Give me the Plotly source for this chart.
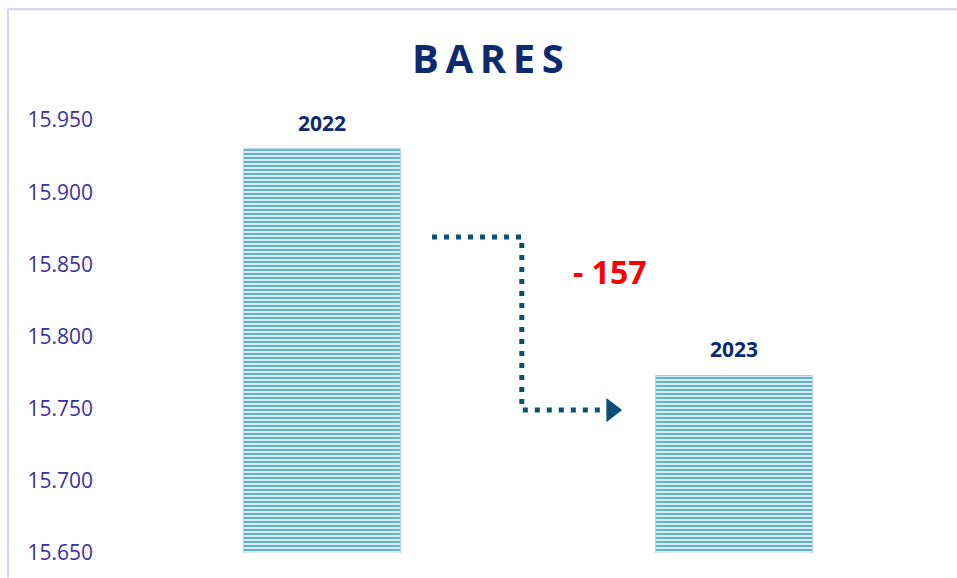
import plotly.graph_objects as go

years = ["2022", "2023"]
values = [15930, 15773]
y_ticks = [15650, 15700, 15750, 15800, 15850, 15900, 15950]
y_tick_text = ["15.650", "15.700", "15.750", "15.800", "15.850", "15.900", "15.950"]
title_text = "BARES"

diff = values[1] - values[0]
diff_text = f"- {abs(diff)}" if diff < 0 else f"+ {diff}"

W, H = 957, 578
L, R, T, B = 116, 17, 120, 20
PW, PH = W - L - R, H - T - B


def px(fx):
    return (fx - L) / PW


def py(fy):
    return (H - B - fy) / PH


fig = go.Figure()
fig.add_trace(go.Bar(
    x=years, y=values, width=0.38,
    marker=dict(
        color="#CFE8F1",
        line=dict(color="#9ED0E2", width=1),
        pattern=dict(shape="-", fgcolor="#62B0CC", bgcolor="#D8EDF5",
                     size=4, solidity=0.5, fillmode="replace"),
    ),
    hoverinfo="skip",
))

# dotted connector (decoration)
conn_x = [0.267, 0.485, 0.485, 0.69]
conn_y = [15869, 15869, 15749, 15749]
fig.add_trace(go.Scatter(
    x=conn_x, y=conn_y, xaxis="x2", yaxis="y",
    mode="lines", line=dict(color="#0B5177", width=5, dash="5px,7px"),
    hoverinfo="skip",
))
fig.add_trace(go.Scatter(
    x=[0.703], y=[15749], xaxis="x2", yaxis="y",
    mode="markers", marker=dict(symbol="triangle-right", size=21, color="#0B5177"),
    hoverinfo="skip",
))

annotations = []
for i, (yr, v) in enumerate(zip(years, values)):
    annotations.append(dict(x=i, y=v, xref="x2", yref="y", text=f"<b>{yr}</b>",
                            showarrow=False, yshift=26,
                            font=dict(family="Open Sans", size=21, color="#0E2A6E")))
annotations.append(dict(x=px(610), y=py(273), xref="paper", yref="paper",
                        text=f"<b>{diff_text}</b>", showarrow=False,
                        xanchor="center", yanchor="middle",
                        font=dict(family="Open Sans", size=32, color="#FF0000")))
annotations.append(dict(x=px(488), y=py(57), xref="paper", yref="paper",
                        text="<b>" + "\u2009".join(title_text) + "</b>", showarrow=False,
                        xanchor="center", yanchor="middle",
                        font=dict(family="Open Sans", size=40, color="#0E2A6E")))

fig.update_layout(
    width=W, height=H,
    margin=dict(l=L, r=R, t=T, b=B),
    paper_bgcolor="white", plot_bgcolor="white",
    showlegend=False,
    bargap=0.62,
    xaxis=dict(type="category", range=[-0.5, 1.5], showticklabels=False,
               showgrid=False, zeroline=False, showline=False, ticks=""),
    xaxis2=dict(range=[-0.5, 1.5], overlaying="x", visible=False),
    yaxis=dict(range=[15650, 15950], tickvals=y_ticks, ticktext=y_tick_text,
               showgrid=False, zeroline=False, showline=False, ticks="",
               ticklabelstandoff=22,
               tickfont=dict(family="Open Sans", size=21, color="#3A30A0")),
    annotations=annotations,
    shapes=[
        dict(type="line", xref="paper", yref="paper",
             x0=px(8), x1=px(W + 5), y0=py(8), y1=py(8),
             line=dict(color="#D4D0F0", width=2)),
        dict(type="line", xref="paper", yref="paper",
             x0=px(8), x1=px(8), y0=py(8), y1=py(H + 5),
             line=dict(color="#D4D0F0", width=2)),
    ],
)

fig.write_html("out.html", config={"displayModeBar": False},
               post_script="document.body.style.margin='0';document.body.style.overflow='hidden';")
